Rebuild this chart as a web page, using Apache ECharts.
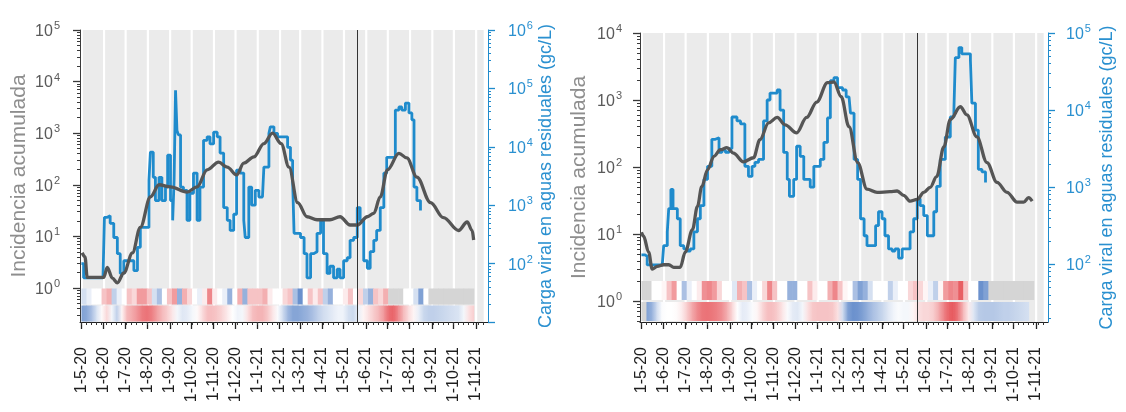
<!DOCTYPE html>
<html>
<head>
<meta charset="utf-8">
<script src="https://cdn.jsdelivr.net/npm/echarts@6/dist/echarts.min.js"></script>
<style>
  html, body { margin: 0; padding: 0; background: #ffffff; }
  #chart { width: 1126px; height: 412px; }
</style>
</head>
<body>
<div id="chart"></div>
<script>
// ---- Month tick labels on the date axis ----
const MONTH_TICKS = [
  '2020-05-01','2020-06-01','2020-07-01','2020-08-01','2020-09-01','2020-10-01',
  '2020-11-01','2020-12-01','2021-01-01','2021-02-01','2021-03-01','2021-04-01',
  '2021-05-01','2021-06-01','2021-07-01','2021-08-01','2021-09-01','2021-10-01','2021-11-01'
];
const AXIS_START = '2020-04-29';
const AXIS_END = '2021-11-18';
const SHADE_END = '2021-11-12';
const CUT_DATE = '2021-05-20';
const WEEK_START = '2020-05-01';

// ---- Panel A: cumulative incidence (left axis) ----
const incidenceA = [
  ['2020-05-02',4.8],['2020-05-06',4.0],['2020-05-09',1.6],['2020-05-20',1.6],['2020-06-01',1.6],
  ['2020-06-06',2.5],['2020-06-13',1.55],['2020-06-20',1.25],['2020-06-29',1.95],['2020-07-11',4.8],
  ['2020-07-22',15],['2020-08-05',58],['2020-08-17',100],['2020-09-02',91],['2020-09-25',72],
  ['2020-10-09',91],['2020-10-23',195],['2020-11-08',275],['2020-11-20',219],['2020-12-03',155],
  ['2020-12-13',263],['2020-12-27',347],['2021-01-10',630],['2021-01-22',1000],['2021-02-03',630],
  ['2021-02-14',219],['2021-02-26',45],['2021-03-11',24],['2021-03-25',21],['2021-04-12',21],
  ['2021-04-26',24],['2021-05-10',16.6],['2021-05-20',16.6],['2021-06-03',24],['2021-06-12',28],
  ['2021-06-21',58],['2021-07-01',195],['2021-07-17',407],['2021-07-28',331],['2021-08-11',141],
  ['2021-08-30',45],['2021-09-17',23],['2021-10-08',13],['2021-10-20',19],['2021-10-27',13],
  ['2021-10-29',8.5]
];

// ---- Panel A: viral load in wastewater, gc/L (right axis) ----
const viralA = [
  ['2020-05-01',100],['2020-05-04',57],['2020-05-31',57],['2020-06-02',620],['2020-06-06',660],
  ['2020-06-10',490],['2020-06-15',280],['2020-06-20',148],['2020-06-24',68],['2020-06-29',112],
  ['2020-07-06',112],['2020-07-13',76],['2020-07-18',190],['2020-07-22',417],['2020-07-29',417],
  ['2020-08-03',2700],['2020-08-05',8100],['2020-08-09',3000],['2020-08-12',1200],['2020-08-17',3000],
  ['2020-08-21',1200],['2020-08-26',2040],['2020-08-29',7200],['2020-09-02',1200],['2020-09-05',550],
  ['2020-09-07',2700],['2020-09-09',93000],['2020-09-11',19000],['2020-09-13',16000],['2020-09-16',2040],
  ['2020-09-20',1800],['2020-09-25',550],['2020-09-29',1600],['2020-10-04',3550],['2020-10-09',550],
  ['2020-10-13',2040],['2020-10-18',12900],['2020-10-23',14800],['2020-10-27',11200],['2020-11-01',17800],
  ['2020-11-06',14800],['2020-11-10',7800],['2020-11-15',910],['2020-11-20',550],['2020-11-24',370],
  ['2020-11-29',700],['2020-12-03',4000],['2020-12-08',3550],['2020-12-13',550],['2020-12-15',280],
  ['2020-12-20',2040],['2020-12-24',1000],['2020-12-29',1800],['2021-01-03',1380],['2021-01-08',1380],
  ['2021-01-10',4500],['2021-01-17',17000],['2021-01-19',22000],['2021-01-24',17000],['2021-01-29',14800],
  ['2021-02-07',14800],['2021-02-12',9800],['2021-02-16',5900],['2021-02-19',2700],['2021-02-21',330],
  ['2021-02-26',330],['2021-03-02',280],['2021-03-07',148],['2021-03-11',57],['2021-03-16',148],
  ['2021-03-20',160],['2021-03-25',330],['2021-03-30',550],['2021-04-03',148],['2021-04-08',68],
  ['2021-04-12',90],['2021-04-17',57],['2021-04-22',80],['2021-04-26',57],['2021-05-01',112],
  ['2021-05-06',126],['2021-05-10',250],['2021-05-15',280],['2021-05-20',910],['2021-05-24',550],
  ['2021-05-29',112],['2021-06-03',83],['2021-06-07',160],['2021-06-12',250],['2021-06-16',370],
  ['2021-06-21',910],['2021-06-26',3550],['2021-06-30',6600],['2021-07-07',6600],['2021-07-12',42600],
  ['2021-07-17',48000],['2021-07-21',42600],['2021-07-26',56000],['2021-07-31',38000],['2021-08-04',29000],
  ['2021-08-07',2040],['2021-08-11',1200],['2021-08-16',810]
];

// ---- Panel A: weekly change strips (positive = red, negative = blue, null = no data) ----
const stripTopA = [
  -0.2,-0.1,0,0,0.3,0.4,-0.3,-0.1,0,0.3,
  0.2,0.5,0.5,0.3,-0.2,-0.4,0,0.3,0.5,-0.5,
  0.4,0.2,0,-0.1,0.1,0.6,0.1,0,-0.1,-0.5,
  0,0.4,-0.5,0.3,0.3,0.3,0.4,0.1,0,0,
  0.2,0.3,-0.4,-0.7,0,0.3,0.1,0.3,-0.3,-0.5,
  0,0,0.1,0.3,0,0.2,-0.3,-0.5,0.3,0.2,
  0.4,null,null,null,0,0,-0.2,-0.6,0,null,
  null,null,null,null,null,null,null,null
];
const stripBottomA = [
  -0.6,-0.5,-0.3,-0.05,0.1,0.3,-0.4,-0.2,0.3,0.4,
  0.45,0.6,0.7,0.7,0.55,0.4,0.3,0.2,0.05,-0.15,
  -0.15,-0.1,0,0.05,0.3,0.35,0.3,0.25,0.15,0.05,
  -0.05,-0.1,0,0.3,0.35,0.4,0.35,0.2,0.05,-0.1,
  -0.35,-0.55,-0.6,-0.55,-0.5,-0.45,-0.35,-0.25,-0.2,-0.15,
  -0.1,-0.05,-0.1,-0.3,-0.2,0,0.1,0.2,0.3,0.4,
  0.6,0.85,0.7,0.45,0.25,0.1,0,-0.2,-0.3,-0.3,
  -0.3,-0.25,-0.25,-0.2,-0.2,-0.15,0.05,0.25
];

// ---- Panel B: cumulative incidence (left axis) ----
const incidenceB = [
  ['2020-05-01',10.7],['2020-05-04',9.3],['2020-05-11',5.4],['2020-05-16',3.0],['2020-05-23',3.3],
  ['2020-06-01',3.5],['2020-06-08',3.5],['2020-06-15',3.2],['2020-06-24',3.2],['2020-07-01',5.4],
  ['2020-07-11',11.7],['2020-07-18',26],['2020-07-24',51],['2020-08-01',91],['2020-08-10',145],
  ['2020-08-19',182],['2020-08-28',195],['2020-09-06',162],['2020-09-20',120],['2020-10-04',138],
  ['2020-10-13',257],['2020-10-25',457],['2020-11-06',550],['2020-11-17',427],['2020-12-03',324],
  ['2020-12-17',550],['2020-12-31',933],['2021-01-15',1820],['2021-01-24',1860],['2021-02-03',1120],
  ['2021-02-14',400],['2021-02-26',117],['2021-03-11',47],['2021-03-25',42],['2021-04-12',43],
  ['2021-04-22',44],['2021-05-01',38],['2021-05-10',31],['2021-05-20',33],['2021-05-29',42],
  ['2021-06-07',50],['2021-06-16',72],['2021-06-26',200],['2021-07-05',513],['2021-07-19',794],
  ['2021-07-28',603],['2021-08-11',282],['2021-08-25',117],['2021-09-08',59],['2021-09-22',42],
  ['2021-10-06',30],['2021-10-15',30],['2021-10-22',35],['2021-10-27',31]
];

// ---- Panel B: viral load in wastewater, gc/L (right axis) ----
const viralB = [
  ['2020-05-01',132],['2020-05-06',126],['2020-05-09',98],['2020-05-30',98],['2020-06-01',174],
  ['2020-06-06',263],['2020-06-08',525],['2020-06-11',933],['2020-06-14',525],['2020-06-20',389],
  ['2020-06-24',174],['2020-06-29',158],['2020-07-04',148],['2020-07-08',158],['2020-07-13',263],
  ['2020-07-18',389],['2020-07-22',575],['2020-07-27',1260],['2020-08-01',1860],['2020-08-07',4170],
  ['2020-08-12',4370],['2020-08-17',2820],['2020-08-21',3020],['2020-08-26',2820],['2020-08-31',3160],
  ['2020-09-04',8130],['2020-09-11',7240],['2020-09-16',6600],['2020-09-22',1860],['2020-09-27',1380],
  ['2020-10-02',1860],['2020-10-06',2090],['2020-10-11',2290],['2020-10-18',7240],['2020-10-23',13500],
  ['2020-10-27',16600],['2020-11-06',18200],['2020-11-10',10000],['2020-11-15',2820],['2020-11-20',1260],
  ['2020-11-23',760],['2020-11-29',1260],['2020-12-03',3390],['2020-12-08',2510],['2020-12-13',1260],
  ['2020-12-17',1260],['2020-12-22',1000],['2020-12-27',1860],['2020-12-31',1860],['2021-01-05',2290],
  ['2021-01-10',3800],['2021-01-15',7900],['2021-01-19',24000],['2021-01-24',26300],['2021-01-29',19500],
  ['2021-02-05',18200],['2021-02-10',14800],['2021-02-14',14800],['2021-02-16',9100],['2021-02-21',2290],
  ['2021-02-26',1260],['2021-03-02',389],['2021-03-07',234],['2021-03-11',174],['2021-03-18',174],
  ['2021-03-23',316],['2021-03-27',479],['2021-04-01',389],['2021-04-05',234],['2021-04-10',158],
  ['2021-04-15',148],['2021-04-19',158],['2021-04-24',120],['2021-04-29',158],['2021-05-06',158],
  ['2021-05-10',263],['2021-05-15',389],['2021-05-20',708],['2021-05-24',575],['2021-05-29',427],
  ['2021-06-03',234],['2021-06-07',234],['2021-06-12',479],['2021-06-16',1020],['2021-06-21',2290],
  ['2021-06-28',4470],['2021-07-05',8130],['2021-07-10',10000],['2021-07-12',47900],['2021-07-17',64600],
  ['2021-07-21',53700],['2021-07-28',53700],['2021-08-02',43700],['2021-08-04',12300],['2021-08-09',5500],
  ['2021-08-13',1700],['2021-08-18',1580],['2021-08-23',1150]
];

// ---- Panel B: weekly change strips ----
const stripTopB = [
  null,null,0,0,0.05,0.3,0.5,0,-0.4,-0.1,
  0,0.1,0.55,0.6,0.5,0.2,0,0,-0.15,0.4,
  0.3,-0.4,-0.1,0,0.2,0.6,0.3,0,0,-0.5,
  -0.5,0,0,0.3,0.1,0,0,0.4,0.6,0.3,
  0.05,0,-0.4,-0.6,-0.5,-0.2,0,0,0,-0.3,
  -0.1,0,0,0.2,0.3,0.2,0.05,-0.1,-0.3,0.05,
  0.5,0.6,0.55,0.8,0.3,0,0,-0.7,-0.6,null,
  null,null,null,null,null,null,null,null
];
const stripBottomB = [
  null,-0.6,-0.4,-0.05,0,0,0,0.05,0.15,0.35,
  0.5,0.65,0.7,0.7,0.65,0.6,0.5,0.3,0.1,-0.1,
  -0.15,-0.05,0,0.1,0.3,0.35,0.3,0.2,0.05,-0.1,
  -0.15,-0.15,0.05,0.25,0.3,0.3,0.3,0.3,0.25,0.05,
  -0.5,-0.7,-0.7,-0.65,-0.55,-0.45,-0.35,-0.3,-0.2,-0.1,
  -0.05,0,-0.1,0,0.1,0.2,0.2,0.2,0.3,0.5,
  0.7,0.85,0.8,0.5,0.2,0,-0.3,-0.35,-0.35,-0.35,
  -0.35,-0.3,-0.3,-0.3,-0.25,-0.25,-0.2
];

// ---- Helpers ----
const DAY = 86400000;
const FONT = "'Liberation Sans', Arial, sans-serif";
const ts = s => { const p = s.split('-').map(Number); return new Date(p[0], p[1] - 1, p[2]).getTime(); };
const X_MIN = ts(AXIS_START), X_MAX = ts(AXIS_END);
const monthTs = MONTH_TICKS.map(ts);
const weekTs = [];
for (let t = ts(WEEK_START); t <= X_MAX; t += 7 * DAY) weekTs.push(t);

const AXIS_DARK = '#3a3a3a';
const INC_LABEL = '#5a5a5a';
const INC_TITLE = '#8e8e8e';
const VIRAL = '#1f8bcc';
const VIRAL_TEXT = '#2a90d0';
const INC_LINE = '#555555';
const GRID_BOTTOM = 322;

// Month shading columns with a thin white gap at each month start
const monthBars = monthTs.map((t, i) => {
  const end = i + 1 < monthTs.length ? monthTs[i + 1] - DAY : ts(SHADE_END);
  return [{ xAxis: t + 2 * DAY }, { xAxis: end }];
});

function divColor(v) {
  if (v == null) return '#d5d5d5';
  const a = Math.min(1, Math.abs(v));
  const end = v >= 0 ? [226, 54, 60] : [44, 98, 184];
  const m = i => Math.round(255 + (end[i] - 255) * a);
  return 'rgb(' + m(0) + ',' + m(1) + ',' + m(2) + ')';
}

function buildCells(values, row, smooth) {
  const w0 = ts(WEEK_START);
  return values.map((v, i) => {
    const start = w0 + i * 7 * DAY;
    const prev = values[i - 1] == null ? v : values[i - 1];
    const next = values[i + 1] == null ? v : values[i + 1];
    return {
      value: [start, start + 7 * DAY, row],
      c0: v == null ? divColor(null) : divColor(smooth ? (prev + v) / 2 : v),
      c1: v == null ? divColor(null) : divColor(smooth ? (v + next) / 2 : v)
    };
  });
}

const monthLabel = v => { const d = new Date(v); return d.getDate() + '-' + (d.getMonth() + 1) + '-' + String(d.getFullYear()).slice(2); };

function logYAxes(gridIndex, side, min, max, labelPowers, lineColor, labelColor, titleColor, name, nameGap, margin, nameSize) {
  const majors = [];
  for (let n = Math.ceil(min); n <= Math.floor(max); n++) majors.push(n);
  const minors = [];
  for (let n = Math.floor(min); n < max; n++) {
    for (let k = 2; k <= 9; k++) { const v = n + Math.log10(k); if (v >= min && v <= max) minors.push(v); }
  }
  const base = { type: 'value', gridIndex, position: side, min, max, splitLine: { show: false } };
  return [
    Object.assign({}, base, {
      axisLine: { show: true, onZero: false, lineStyle: { color: lineColor, width: 1 } },
      axisTick: { show: true, customValues: majors, length: 7, lineStyle: { color: lineColor, width: 1.3 } },
      axisLabel: {
        show: true, customValues: labelPowers, margin,
        formatter: v => '{b|10}{s|' + Math.round(v) + '}',
        rich: {
          b: { fontSize: 16, color: labelColor, fontFamily: FONT, verticalAlign: 'bottom' },
          s: { fontSize: 11, color: labelColor, fontFamily: FONT, verticalAlign: 'bottom', padding: [0, 0, 8, 1] }
        }
      },
      name, nameLocation: 'middle', nameRotate: 90, nameGap,
      nameTextStyle: { color: titleColor, fontSize: nameSize, fontFamily: FONT }
    }),
    Object.assign({}, base, {
      axisLine: { show: false, onZero: false },
      axisLabel: { show: false },
      axisTick: { show: true, customValues: minors, length: 3, lineStyle: { color: lineColor, width: 1 } }
    })
  ];
}

function panel(cfg, gi, xi, yi) {
  const height = GRID_BOTTOM - cfg.top;
  const grids = [{ left: cfg.left, top: cfg.top, width: 408, height }];
  const xAxes = [
    {
      type: 'value', gridIndex: gi, position: 'bottom', min: X_MIN, max: X_MAX, splitLine: { show: false },
      axisLine: { show: true, onZero: false, lineStyle: { color: '#222', width: 1 } },
      axisTick: { show: true, customValues: monthTs, length: 7, lineStyle: { color: '#222', width: 1.3 } },
      axisLabel: { show: true, customValues: monthTs, rotate: 90, margin: 25, fontSize: 16,
                   color: '#1e1e1e', fontFamily: FONT, formatter: monthLabel }
    },
    {
      type: 'value', gridIndex: gi, position: 'bottom', min: X_MIN, max: X_MAX, splitLine: { show: false },
      axisLine: { show: false, onZero: false }, axisLabel: { show: false },
      axisTick: { show: true, customValues: weekTs, length: 3, lineStyle: { color: '#333' } }
    }
  ];
  // Hidden axis for the two strips: rows 0 (lower) and 1 (upper) fill the bottom stripHeight px
  const stripAxisMax = 2 * height / cfg.stripHeight;
  const yAxes = [].concat(
    logYAxes(gi, 'left', cfg.leftMin, cfg.leftMax, cfg.leftLabels, AXIS_DARK, INC_LABEL, INC_TITLE,
             'Incidencia acumulada', cfg.leftGap, cfg.leftMargin, 21),
    logYAxes(gi, 'right', cfg.rightMin, cfg.rightMax, cfg.rightLabels, VIRAL, VIRAL_TEXT, VIRAL_TEXT,
             'Carga viral en aguas residuales (gc/L)', cfg.rightGap, cfg.rightMargin, 18),
    [{ type: 'value', gridIndex: gi, position: 'left', min: 0, max: stripAxisMax, show: false }]
  );
  const cells = buildCells(cfg.stripBottom, 0, true).concat(buildCells(cfg.stripTop, 1, false));
  const gap = cfg.stripGap;
  const series = [
    {
      type: 'line', xAxisIndex: xi, yAxisIndex: yi, data: [], silent: true, z: 1,
      markArea: { silent: true, itemStyle: { color: '#ebebeb' }, data: monthBars }
    },
    {
      type: 'custom', xAxisIndex: xi, yAxisIndex: yi + 4, z: 2, silent: true,
      encode: { x: [0, 1], y: 2 },
      data: cells.map(c => c.value),
      renderItem: (params, api) => {
        const c = cells[params.dataIndex];
        const p0 = api.coord([api.value(0), api.value(2) + 1]);
        const p1 = api.coord([api.value(1), api.value(2)]);
        const fill = c.c0 === c.c1 ? c.c0 :
          new echarts.graphic.LinearGradient(0, 0, 1, 0, [{ offset: 0, color: c.c0 }, { offset: 1, color: c.c1 }]);
        return {
          type: 'rect',
          shape: { x: p0[0], y: p0[1] + gap / 2, width: p1[0] - p0[0] + 0.6, height: p1[1] - p0[1] - gap },
          style: { fill }
        };
      }
    },
    {
      type: 'line', xAxisIndex: xi, yAxisIndex: yi + 2, z: 3, step: 'end',
      showSymbol: false, silent: true,
      data: cfg.viral.map(d => [ts(d[0]), Math.log10(d[1])]),
      lineStyle: { color: VIRAL, width: 2.8 }
    },
    {
      type: 'line', xAxisIndex: xi, yAxisIndex: yi, z: 4, smooth: 0.35, smoothMonotone: 'x',
      showSymbol: false, silent: true,
      data: cfg.incidence.map(d => [ts(d[0]), Math.log10(d[1])]),
      lineStyle: { color: INC_LINE, width: 3.3 },
      markLine: {
        silent: true, symbol: 'none', label: { show: false },
        lineStyle: { color: '#333', width: 1, type: 'solid' },
        data: [{ xAxis: ts(CUT_DATE) }]
      }
    }
  ];
  return { grids, xAxes, yAxes, series };
}

const A = panel({
  left: 80, top: 30, stripHeight: 34, stripGap: 1,
  leftMin: -0.66, leftMax: 5, leftLabels: [0, 1, 2, 3, 4, 5],
  rightMin: 1, rightMax: 6, rightLabels: [2, 3, 4, 5, 6],
  leftGap: 50, rightGap: 47, leftMargin: 20, rightMargin: 20,
  incidence: incidenceA, viral: viralA, stripTop: stripTopA, stripBottom: stripBottomA
}, 0, 0, 0);

const B = panel({
  left: 640, top: 33, stripHeight: 42, stripGap: 2,
  leftMin: -0.31, leftMax: 4, leftLabels: [0, 1, 2, 3, 4],
  rightMin: 1.25, rightMax: 5, rightLabels: [2, 3, 4, 5],
  leftGap: 50, rightGap: 50, leftMargin: 18, rightMargin: 18,
  incidence: incidenceB, viral: viralB, stripTop: stripTopB, stripBottom: stripBottomB
}, 1, 2, 5);

const chart = echarts.init(document.getElementById('chart'), null, { renderer: 'canvas' });
chart.setOption({
  backgroundColor: '#ffffff',
  animation: false,
  grid: A.grids.concat(B.grids),
  xAxis: A.xAxes.concat(B.xAxes),
  yAxis: A.yAxes.concat(B.yAxes),
  series: A.series.concat(B.series)
});
</script>
</body>
</html>
